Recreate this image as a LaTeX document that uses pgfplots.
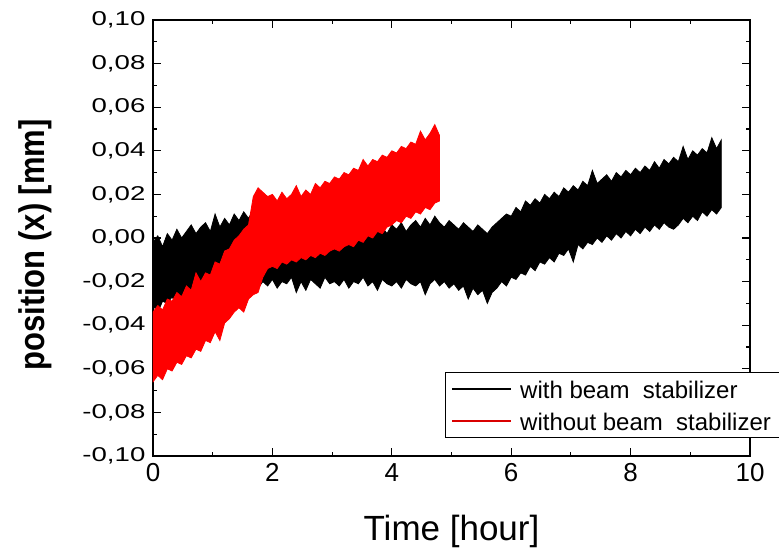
\documentclass[border=0pt]{standalone}
\usepackage{fontspec}
\setmainfont{Liberation Sans}
\usepackage{pgfplots}
\pgfplotsset{compat=1.18}
\usepgfplotslibrary{fillbetween}
\usepackage{pgfplotstable}

\pgfplotsset{
  blackleg/.style={legend image code/.code={\draw[draw=black, line width=1.5pt] (0pt,0pt) -- (59pt,0pt);}},
  redleg/.style={legend image code/.code={\draw[draw=red!85!black, line width=1.6pt] (0pt,0pt) -- (59pt,0pt);}},
}

% with beam stabilizer: upper / lower excursion of the signal, dx = 0.08 h
\pgfplotstableread[row sep=\\]{hi lo\\
-0.002 -0.031\\ 0.001 -0.034\\ -0.004 -0.029\\ 0.002 -0.030\\ -0.001 -0.027\\
0.004 -0.031\\ 0.000 -0.026\\ 0.003 -0.028\\ 0.006 -0.024\\ 0.002 -0.027\\
0.005 -0.023\\ 0.007 -0.025\\ 0.003 -0.021\\ 0.011 -0.024\\ 0.005 -0.020\\
0.009 -0.022\\ 0.006 -0.018\\ 0.011 -0.020\\ 0.008 -0.016\\ 0.012 -0.017\\
0.009 -0.014\\ 0.013 -0.015\\ 0.006 -0.023\\ 0.003 -0.020\\ 0.005 -0.022\\
0.002 -0.019\\ 0.004 -0.023\\ 0.001 -0.020\\ 0.005 -0.021\\ 0.003 -0.018\\
0.006 -0.025\\ 0.002 -0.020\\ 0.004 -0.024\\ 0.001 -0.019\\ 0.005 -0.021\\
0.003 -0.023\\ 0.002 -0.018\\ 0.006 -0.021\\ 0.003 -0.020\\ 0.004 -0.022\\
0.001 -0.019\\ 0.005 -0.023\\ 0.003 -0.020\\ 0.006 -0.021\\ 0.002 -0.018\\
0.004 -0.022\\ 0.007 -0.020\\ 0.010 -0.024\\ 0.005 -0.019\\ 0.002 -0.021\\
0.006 -0.022\\ 0.004 -0.020\\ 0.007 -0.023\\ 0.003 -0.019\\ 0.006 -0.021\\
0.008 -0.022\\ 0.005 -0.020\\ 0.009 -0.026\\ 0.006 -0.021\\ 0.010 -0.019\\
0.007 -0.022\\ 0.005 -0.020\\ 0.008 -0.023\\ 0.006 -0.021\\ 0.004 -0.024\\
0.007 -0.022\\ 0.005 -0.028\\ 0.003 -0.023\\ 0.006 -0.026\\ 0.004 -0.024\\
0.002 -0.030\\ 0.005 -0.025\\ 0.007 -0.023\\ 0.009 -0.020\\ 0.011 -0.022\\
0.010 -0.018\\ 0.014 -0.019\\ 0.012 -0.016\\ 0.017 -0.017\\ 0.015 -0.013\\
0.018 -0.015\\ 0.016 -0.011\\ 0.020 -0.012\\ 0.018 -0.009\\ 0.021 -0.011\\
0.019 -0.007\\ 0.023 -0.008\\ 0.021 -0.005\\ 0.024 -0.011\\ 0.022 -0.003\\
0.026 -0.005\\ 0.024 -0.002\\ 0.031 -0.003\\ 0.025 0.000\\ 0.027 -0.002\\
0.029 0.001\\ 0.026 -0.001\\ 0.030 0.002\\ 0.028 0.000\\ 0.031 0.003\\
0.029 0.001\\ 0.032 0.004\\ 0.030 0.002\\ 0.033 0.005\\ 0.031 0.003\\
0.035 0.006\\ 0.032 0.004\\ 0.036 0.007\\ 0.034 0.005\\ 0.037 0.004\\
0.035 0.006\\ 0.042 0.009\\ 0.036 0.007\\ 0.040 0.010\\ 0.038 0.008\\
0.041 0.012\\ 0.039 0.010\\ 0.046 0.013\\ 0.041 0.011\\ 0.045 0.014\\
}\blackdata

% without beam stabilizer: upper / lower excursion of the signal, dx = 0.08 h
\pgfplotstableread[row sep=\\]{hi lo\\
-0.034 -0.066\\ -0.031 -0.063\\ -0.033 -0.065\\ -0.028 -0.060\\ -0.029 -0.061\\
-0.025 -0.057\\ -0.027 -0.058\\ -0.022 -0.054\\ -0.024 -0.055\\ -0.016 -0.051\\
-0.020 -0.052\\ -0.016 -0.047\\ -0.017 -0.048\\ -0.011 -0.043\\ -0.012 -0.047\\
-0.006 -0.039\\ -0.005 -0.037\\ -0.001 -0.034\\ 0.001 -0.032\\ 0.004 -0.034\\
0.006 -0.028\\ 0.019 -0.026\\ 0.023 -0.025\\ 0.021 -0.018\\ 0.019 -0.014\\
0.020 -0.013\\ 0.017 -0.014\\ 0.021 -0.011\\ 0.018 -0.012\\ 0.020 -0.010\\
0.024 -0.011\\ 0.019 -0.009\\ 0.022 -0.010\\ 0.020 -0.008\\ 0.025 -0.009\\
0.023 -0.007\\ 0.026 -0.008\\ 0.025 -0.006\\ 0.028 -0.005\\ 0.027 -0.006\\
0.030 -0.004\\ 0.029 -0.003\\ 0.032 -0.004\\ 0.031 -0.001\\ 0.036 -0.002\\
0.033 0.001\\ 0.036 0.000\\ 0.035 0.003\\ 0.038 0.002\\ 0.037 0.005\\
0.040 0.006\\ 0.039 0.008\\ 0.042 0.007\\ 0.041 0.010\\ 0.044 0.009\\
0.043 0.012\\ 0.049 0.011\\ 0.045 0.014\\ 0.048 0.013\\ 0.052 0.016\\
0.047 0.017\\
}\reddata

\begin{document}
\begin{tikzpicture}
\begin{axis}[
  at={(0pt,0pt)}, anchor=south west,
  scale only axis, width=597pt, height=436pt,
  xmin=0, xmax=10, ymin=-0.10, ymax=0.10,
  xtick={0,2,4,6,8,10}, ytick={-0.10,-0.08,-0.06,-0.04,-0.02,0,0.02,0.04,0.06,0.08,0.10},
  minor x tick num=1, minor y tick num=1,
  tick align=inside, xtick pos=both, ytick pos=both,
  major tick length=8pt, minor tick length=4pt,
  axis line style={line width=1.3pt}, every tick/.style={black, line width=1.1pt},
  /pgf/number format/assume math mode=true,
  scaled y ticks=false,
  yticklabel style={/pgf/number format/.cd, fixed, fixed zerofill, precision=2, use comma, /tikz/.cd,
    font=\fontsize{20}{20}\selectfont, xscale=1.38, xshift=-2pt},
  xticklabel style={font=\fontsize{26}{26}\selectfont, yshift=-4pt},
  xlabel={Time [hour]},
  xlabel style={font=\fontsize{35}{35}\selectfont, at={(axis description cs:0.5,-0.193)}, anchor=base},
  ylabel={position (x) [mm]},
  ylabel style={font=\fontsize{31}{31}\selectfont\bfseries, at={(axis description cs:-0.198,0.484)}, anchor=center, yscale=1.15},
  legend style={at={(axis description cs:0.489,0.193)}, anchor=north west,
    line width=1.3pt, fill=white,
    font=\fontsize{24}{24}\selectfont, row sep=5pt, inner xsep=6pt, inner ysep=3pt,
    nodes={text height=21pt, text depth=2pt, inner ysep=2pt, inner xsep=8pt}},
  legend cell align=left,
]
\addlegendimage{blackleg}
\addlegendentry{with beam\ \ stabilizer}
\addlegendimage{redleg}
\addlegendentry{without beam\ \ stabilizer}

\addplot[name path=bhi, draw=none, forget plot] table[x expr=\coordindex*0.08, y=hi]{\blackdata};
\addplot[name path=blo, draw=none, forget plot] table[x expr=\coordindex*0.08, y=lo]{\blackdata};
\addplot[fill=black, draw=black, line width=0.8pt, forget plot] fill between[of=bhi and blo];

\addplot[name path=rhi, draw=none, forget plot] table[x expr=\coordindex*0.08, y=hi]{\reddata};
\addplot[name path=rlo, draw=none, forget plot] table[x expr=\coordindex*0.08, y=lo]{\reddata};
\addplot[fill=red, draw=red, line width=0.8pt, forget plot] fill between[of=rhi and rlo];
\end{axis}
\pgfresetboundingbox
\useasboundingbox (-153pt,-92pt) rectangle (626pt,456pt);
\end{tikzpicture}
\end{document}
